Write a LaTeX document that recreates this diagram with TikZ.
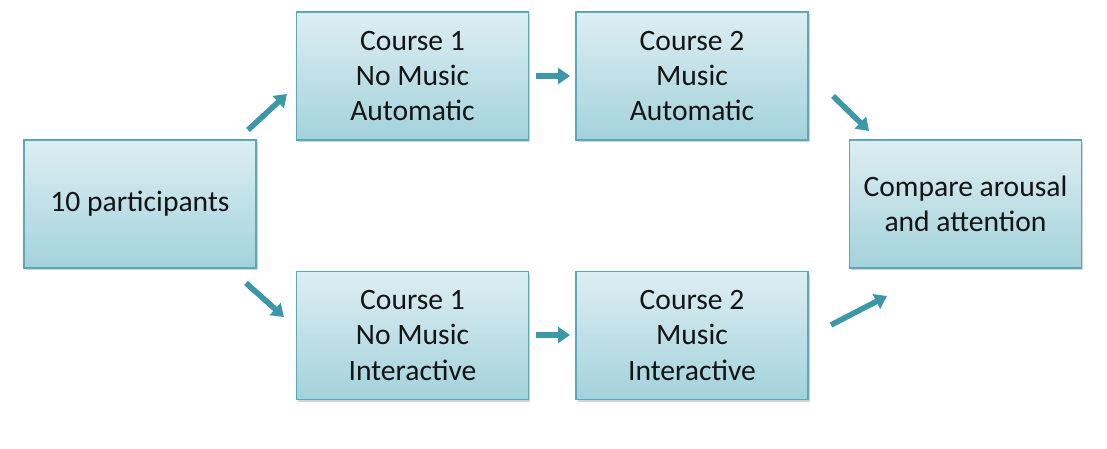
\documentclass[tikz,border=0pt]{standalone}
\usepackage{fontspec}
\setmainfont{Carlito}
\usetikzlibrary{arrows.meta,shadows}
\definecolor{boxtop}{HTML}{DDEEF2}
\definecolor{boxbot}{HTML}{A3D2DC}
\definecolor{boxline}{HTML}{5BA9B8}
\definecolor{arrowc}{HTML}{3C98A9}
\definecolor{txt}{HTML}{141414}
\tikzset{
  stage/.style={draw=boxline, line width=0.9pt, top color=boxtop, bottom color=boxbot,
    minimum width=174pt, minimum height=96pt, align=center, inner sep=0pt,
    font=\fontsize{22.2}{26.3}\selectfont, text=txt,
    drop shadow={shadow xshift=1.2pt, shadow yshift=-1.6pt, opacity=0.35, fill=gray}},
  flow/.style={draw=arrowc, line width=4.2pt, -{Triangle[length=9pt,width=12pt]}}
}
\begin{document}
\begin{tikzpicture}[x=0.75pt,y=-0.75pt]
\useasboundingbox (0,0) rectangle (1107,449);
\node[stage] (p) at (140,204) {10 participants};
\node[stage] (a1) at (412.5,76) {Course 1\\No Music\\Automatic};
\node[stage] (a2) at (692,76) {Course 2\\Music\\Automatic};
\node[stage] (i1) at (412.5,335.5) {Course 1\\No Music\\Interactive};
\node[stage] (i2) at (692,335.5) {Course 2\\Music\\Interactive};
\node[stage] (c) at (965.5,204) {Compare arousal\\and attention};
\coordinate (s1) at (248,130); \coordinate (e1) at (287,94);
\coordinate (s2) at (246,283); \coordinate (e2) at (284,317);
\coordinate (s3) at (536,76); \coordinate (e3) at (570,76);
\coordinate (s4) at (536,335); \coordinate (e4) at (570,335);
\coordinate (s5) at (833,96); \coordinate (e5) at (869,131);
\coordinate (s6) at (831,325); \coordinate (e6) at (887,296);
\draw[flow] (s1) -- (e1);
\draw[flow] (s2) -- (e2);
\draw[flow] (s3) -- (e3);
\draw[flow] (s4) -- (e4);
\draw[flow] (s5) -- (e5);
\draw[flow] (s6) -- (e6);
\end{tikzpicture}
\end{document}
